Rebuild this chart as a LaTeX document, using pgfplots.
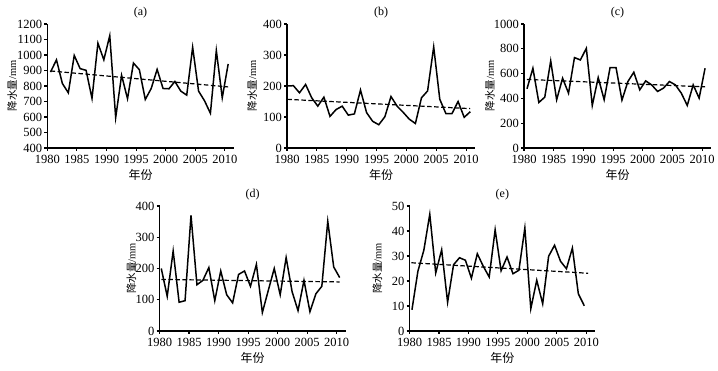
\documentclass[border=0pt]{standalone}
\usepackage{fontspec}
\setmainfont{Liberation Serif}
\newfontfamily\cjk{Noto Sans CJK SC}
\usepackage{pgfplots}
\pgfplotsset{compat=1.18}
\pgfplotsset{
  panel/.style={
    scale only axis, anchor=south west,
    axis lines=left, axis line style={-, line width=1.3pt},
    xmin=1980, xmax=2011.5,
    xtick={1980,1985,...,2010},
    tick align=outside, major tick length=3pt,
    tick style={line width=1.1pt, black},
    minor tick num=0,
    every tick label/.append style={font=\fontsize{12.5}{14}\selectfont, inner sep=1pt},
    xticklabel style={yshift=-3pt},
    yticklabel style={xshift=-1pt},
    /pgf/number format/assume math mode=true,
    /pgf/number format/1000 sep={},
    scaled ticks=false,
    xlabel={\cjk 年份},
    ylabel={{\cjk 降水量}/mm},
    every axis y label/.style={rotate=90, anchor=center, font=\fontsize{10.5}{12}\selectfont},
    every axis x label/.style={at={(axis description cs:0.5,0)}, anchor=center, yshift=-27pt, font=\fontsize{12}{13}\selectfont},
    every axis title/.style={at={(axis description cs:0.5,1)}, anchor=center, yshift=11pt, font=\fontsize{12}{13}\selectfont},
    clip=false,
  },
  data/.style={black, line width=1.5pt, no markers},
  trend/.style={black, line width=1.2pt, dash pattern=on 4.5pt off 2.5pt, no markers},
}
\begin{document}
\begin{tikzpicture}
\path[use as bounding box] (0,0) rectangle (718pt,371pt);
% (a)
\begin{axis}[panel, at={(47.3pt,223pt)}, width=186.5pt, height=124pt,
  ymin=400, ymax=1200, ytick={400,500,...,1200}, title={(a)},
  ylabel style={at={(axis description cs:-0.188,0.5)}}]
\addplot[data] table[x expr={1980.55+\coordindex}, y=v, row sep=\\] {v\\
890\\ 969\\ 816\\ 756\\ 997\\ 912\\ 901\\ 720\\ 1076\\ 969\\ 1125\\ 596\\ 869\\ 718\\ 948\\ 905\\
713\\ 784\\ 907\\ 784\\ 782\\ 829\\ 767\\ 741\\ 1050\\ 767\\ 705\\ 624\\ 1029\\ 724\\ 942\\};
\addplot[trend] coordinates {(1980.55,897) (2010.55,794)};
\end{axis}
% (b)
\begin{axis}[panel, at={(287pt,223pt)}, width=188pt, height=124pt,
  ymin=0, ymax=400, ytick={0,100,...,400}, title={(b)},
  ylabel style={at={(axis description cs:-0.186,0.5)}}]
\addplot[data] table[x expr={1980.05+1.022*\coordindex}, y=v, row sep=\\] {v\\
200\\ 201\\ 178\\ 205\\ 162\\ 135\\ 164\\ 102\\ 124\\ 135\\ 106\\ 110\\ 187\\ 114\\ 86\\ 75\\
101\\ 166\\ 135\\ 115\\ 93\\ 79\\ 162\\ 184\\ 326\\ 157\\ 111\\ 111\\ 150\\ 99\\ 117\\};
\addplot[trend] coordinates {(1980.05,157) (2010.7,127)};
\end{axis}
% (c)
\begin{axis}[panel, at={(524pt,223pt)}, width=187pt, height=124pt,
  ymin=0, ymax=1000, ytick={0,200,...,1000}, title={(c)},
  ylabel style={at={(axis description cs:-0.182,0.5)}}]
\addplot[data] table[x expr={1980.5+\coordindex}, y=v, row sep=\\] {v\\
477\\ 643\\ 367\\ 410\\ 702\\ 389\\ 563\\ 442\\ 729\\ 710\\ 804\\ 343\\ 568\\ 389\\ 649\\ 649\\
386\\ 536\\ 611\\ 469\\ 541\\ 509\\ 456\\ 483\\ 536\\ 509\\ 442\\ 343\\ 509\\ 402\\ 643\\};
\addplot[trend] coordinates {(1980.5,553) (2010.5,493)};
\end{axis}
% (d)
\begin{axis}[panel, at={(159.5pt,40pt)}, width=186pt, height=125pt,
  ymin=0, ymax=400, ytick={0,100,...,400}, title={(d)},
  ylabel style={at={(axis description cs:-0.151,0.5)}}]
\addplot[data] table[x expr={1980.3+1.007*\coordindex}, y=v, row sep=\\] {v\\
200\\ 111\\ 256\\ 92\\ 97\\ 370\\ 148\\ 162\\ 203\\ 97\\ 192\\ 116\\ 90\\ 181\\ 192\\ 143\\
213\\ 59\\ 130\\ 200\\ 116\\ 235\\ 126\\ 65\\ 162\\ 62\\ 119\\ 143\\ 351\\ 205\\ 171\\};
\addplot[trend] coordinates {(1980.3,165) (2010.5,157)};
\end{axis}
% (e)
\begin{axis}[panel, at={(409.6pt,40pt)}, width=185.5pt, height=125pt,
  ymin=0, ymax=50, ytick={0,10,...,50}, title={(e)},
  ylabel style={at={(axis description cs:-0.173,0.5)}}]
\addplot[data] table[x expr={1980.4+1.009*\coordindex}, y=v, row sep=\\] {v\\
8.5\\ 23.9\\ 32.3\\ 46.7\\ 23.2\\ 32.5\\ 11.5\\ 26.5\\ 29.3\\ 28.3\\ 21.1\\ 30.9\\ 25.9\\ 21.6\\ 40.5\\
24.1\\ 29.6\\ 22.9\\ 24.3\\ 41.2\\ 8.9\\ 20.3\\ 10.9\\ 29.9\\ 34.3\\ 27.9\\ 24.9\\ 33.2\\ 14.9\\ 10.1\\};
\addplot[trend] coordinates {(1980.3,27.3) (2010.3,23.1)};
\end{axis}
\end{tikzpicture}
\end{document}
